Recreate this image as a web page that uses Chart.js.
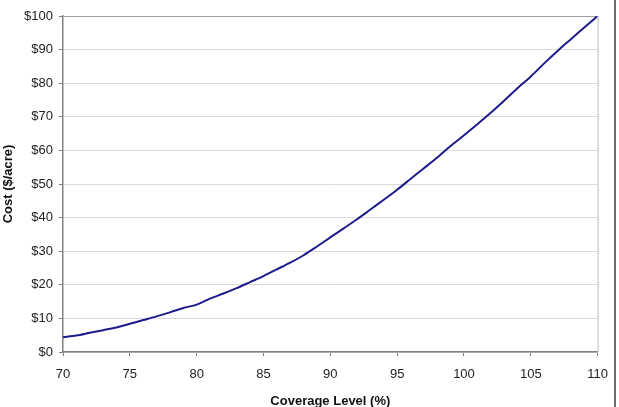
<!DOCTYPE html>
<html>
<head>
<meta charset="utf-8">
<script src="https://cdn.jsdelivr.net/npm/chart.js@4/dist/chart.umd.min.js"></script>
<style>
    html, body { margin: 0; padding: 0; background: #fff; overflow: hidden; }
    #wrap { position: relative; width: 619px; height: 407px; overflow: hidden; }
    #edge { position: absolute; left: 614px; top: 0; width: 2px; height: 407px; background: #6e6e6e; }
</style>
</head>
<body>
<div id="wrap">
    <canvas id="chart" width="619" height="409"></canvas>
    <div id="edge"></div>
</div>
<script>
// --- Data ---
const coverageLevels = [70, 71, 72, 73, 74, 75, 76, 77, 78, 79, 80, 81, 82, 83, 84, 85, 86, 87, 88, 89,
                        90, 91, 92, 93, 94, 95, 96, 97, 98, 99, 100, 101, 102, 103, 104, 105, 106, 107, 108, 109, 110];
const costPerAcre = [4.4, 4.9, 5.7, 6.5, 7.3, 8.4, 9.5, 10.6, 11.8, 13.1, 14.1, 15.9, 17.4, 19.0, 20.8, 22.6, 24.6, 26.6, 28.8, 31.4,
                     34.1, 36.8, 39.5, 42.4, 45.3, 48.3, 51.5, 54.7, 57.9, 61.3, 64.5, 67.8, 71.2, 74.8, 78.5, 82.0, 85.9, 89.6, 93.1, 96.6, 100];
const xTitle = 'Coverage Level (%)';
const yTitle = 'Cost ($/acre)';

const fontFamily = 'Arial, "Liberation Sans", sans-serif';
const axisColor = '#808080';
const gridColor = '#d9d9d9';

// right edge of the plot area in light gray
const plotFrame = {
    id: 'plotFrame',
    afterDraw(chart) {
        const { ctx, chartArea: a } = chart;
        ctx.save();
        ctx.strokeStyle = '#c0c0c0';
        ctx.lineWidth = 1;
        ctx.beginPath();
        ctx.moveTo(a.right + 0.5, a.top);
        ctx.lineTo(a.right + 0.5, a.bottom);
        ctx.stroke();
        ctx.restore();
    }
};

new Chart(document.getElementById('chart'), {
    type: 'line',
    data: {
        datasets: [{
            label: 'Cost',
            data: coverageLevels.map((x, i) => ({ x, y: costPerAcre[i] })),
            borderColor: '#1e1b8c',
            borderWidth: 2,
            pointRadius: 0,
            tension: 0.3,
            fill: false
        }]
    },
    options: {
        responsive: false,
        animation: false,
        layout: { padding: { left: 0, top: 16, right: 21, bottom: 0 } },
        plugins: { legend: { display: false }, tooltip: { enabled: false } },
        scales: {
            x: {
                type: 'linear',
                min: 70, max: 110,
                afterFit: s => { s.height = 57; },
                grid: { drawOnChartArea: false, drawTicks: true, tickLength: 4, tickColor: axisColor },
                border: { color: axisColor, width: 1.5 },
                ticks: { stepSize: 5, padding: 11, color: '#222', font: { family: fontFamily, size: 13 } },
                title: { display: true, text: xTitle, color: '#111', padding: 0,
                         font: { family: fontFamily, size: 13, weight: 'bold' } }
            },
            y: {
                min: 0, max: 100,
                afterFit: s => { s.width = 63; },
                grid: {
                    color: ctx => ctx.tick && ctx.tick.value === 100 ? '#a0a0a0' : gridColor,
                    tickLength: 4, tickColor: axisColor
                },
                border: { color: axisColor, width: 1.5 },
                ticks: { stepSize: 10, padding: 6, color: '#222', font: { family: fontFamily, size: 13 },
                         callback: v => '$' + v },
                title: { display: true, text: yTitle, color: '#111', padding: 1,
                         font: { family: fontFamily, size: 13, weight: 'bold' } }
            }
        }
    },
    plugins: [plotFrame]
});
</script>
</body>
</html>
